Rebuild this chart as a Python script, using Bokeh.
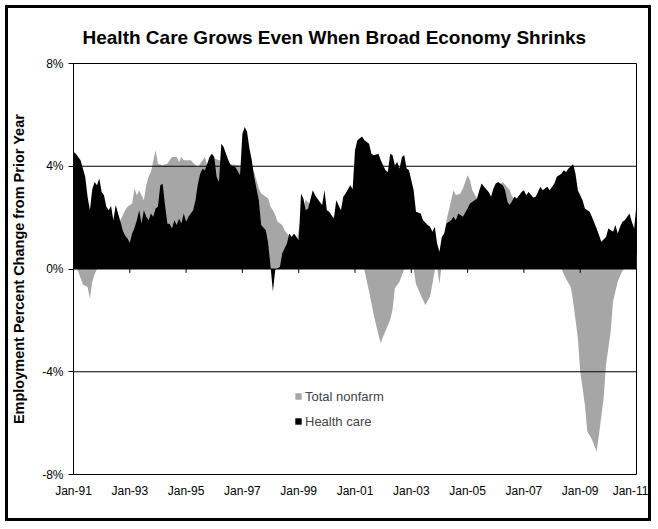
from bokeh.plotting import figure
from bokeh.models import FixedTicker, Legend, LegendItem, Range1d
from bokeh.embed import file_html
from bokeh.resources import INLINE

# ---- data (months since Jan-1991, year-over-year % change) ----
tick_months = [0, 24, 48, 72, 96, 120, 144, 168, 192, 216, 240]
tick_labels = ["Jan-91", "Jan-93", "Jan-95", "Jan-97", "Jan-99", "Jan-01",
               "Jan-03", "Jan-05", "Jan-07", "Jan-09", "Jan-11"]
y_ticks = [-8, -4, 0, 4, 8]
y_labels = ["-8%", "-4%", "0%", "4%", "8%"]
y_grid = [-4, 4]

hc_month = [0, 1, 3, 5, 6, 7, 8, 9, 10, 11, 12, 13, 14, 15, 16, 17, 18, 19, 20, 21, 22, 23, 24, 25,
            26, 27, 28, 29, 30, 31, 32, 33, 34, 35, 36, 37, 38, 39, 40, 41, 42, 43, 44, 45, 46, 47,
            48, 49, 51, 52, 53, 54, 55, 56, 57, 58, 59, 60, 61, 62, 63, 64, 66, 67, 69, 71, 72, 73,
            74, 75, 76, 77, 79, 80, 82, 83, 84, 85, 86, 88, 89, 91, 92, 93, 94, 96, 97, 98, 99, 100,
            102, 103, 105, 106, 107, 108, 109, 111, 112, 114, 115, 116, 118, 119, 120, 121, 123,
            124, 126, 127, 128, 130, 131, 133, 134, 135, 136, 137, 138, 139, 140, 141, 142, 143,
            145, 146, 148, 149, 151, 152, 153, 154, 155, 156, 157, 158, 159, 161, 162, 163, 164,
            166, 168, 169, 170, 172, 173, 174, 175, 177, 178, 179, 180, 181, 183, 184, 185, 186,
            188, 189, 191, 192, 193, 194, 196, 197, 198, 199, 200, 202, 203, 205, 206, 208, 209,
            210, 211, 213, 214, 215, 217, 218, 220, 221, 223, 224, 225, 227, 228, 230, 231, 232,
            233, 234, 235, 237, 238, 239, 240]
hc_value = [4.56, 4.49, 4.23, 3.59, 2.81, 2.29, 3.10, 3.39, 3.26, 3.52, 3.00, 2.87, 2.42, 2.29, 2.45,
            1.90, 2.49, 2.16, 1.85, 1.50, 1.30, 1.19, 1.02, 1.38,
            1.60, 1.90, 2.29, 1.77, 2.29, 2.03, 1.90, 2.16, 2.03, 2.36, 2.42, 3.26, 3.32, 2.50, 1.77,
            1.75, 1.58, 1.90, 1.71, 1.96, 1.77, 2.16,
            1.84, 2.03, 2.29, 2.68, 3.30, 3.71, 3.90, 3.84, 4.10, 4.36, 4.49, 4.36, 3.59, 3.39, 4.88,
            4.75, 4.23, 4.04, 3.97, 3.65, 5.27, 5.53,
            5.33, 4.69, 4.23, 3.59, 2.68, 1.71, 1.51, 0.99, 0.09, -0.88, -0.04, 0.09, 0.61, 0.99, 1.38,
            1.25, 1.38, 1.12, 2.94, 2.74, 2.29, 2.36,
            3.07, 2.87, 2.61, 2.49, 3.07, 2.29, 2.23, 1.96, 2.68, 2.29, 2.81, 2.94, 3.26, 3.10, 4.62,
            5.01, 5.16,
            5.01, 4.88, 4.49, 4.43, 4.49, 4.23, 3.84, 3.78, 4.49, 4.43, 4.04, 4.17, 3.91, 4.36, 4.43,
            3.91, 3.84,
            3.07, 2.23, 2.16, 1.90, 1.71, 1.64, 1.45, 1.64, 0.99, 0.67, 1.25, 1.38, 1.77, 1.90, 2.03,
            1.90, 2.16,
            2.03, 2.36, 2.55, 2.61, 2.74, 3.07, 3.33, 3.20, 3.00, 2.81, 3.13, 3.33, 3.39, 3.26, 3.07,
            2.61, 2.49,
            2.81, 2.74, 3.00, 3.07, 2.87, 3.00, 2.78, 2.81, 3.00, 3.20, 3.07, 3.20, 3.07, 3.33, 3.59,
            3.71, 3.84,
            3.78, 3.91, 4.08, 3.71, 3.07, 2.68, 2.36, 2.23, 2.03, 1.58, 1.32, 1.06, 1.25, 1.58, 1.45,
            1.71, 1.38,
            1.64, 1.84, 1.90, 2.16, 1.84, 1.58, 2.50]

nf_month = [0, 2, 4, 6, 7, 8, 9, 10, 12, 14, 16, 18, 20, 22, 23, 25, 26, 27, 28, 30, 31, 32, 33, 35,
            36, 38, 40, 41, 42, 44, 45, 46, 47, 49, 50, 52, 53, 54, 56, 57, 60, 63, 66, 70, 74, 77,
            79, 80, 82, 83, 84, 85, 86, 87, 89, 90, 91, 93, 95, 97, 99, 101, 104, 107, 110, 112,
            115, 118, 120, 122, 124, 126, 128, 130, 131, 132, 135, 136, 137, 139, 141, 143, 145,
            146, 148, 150, 152, 153, 154, 155, 156, 157, 158, 159, 160, 162, 163, 165, 166, 168,
            169, 170, 172, 175, 178, 181, 183, 186, 187, 190, 194, 198, 202, 205, 207, 208, 210,
            212, 213, 215, 216, 218, 219, 221, 223, 224, 226, 227, 229, 230, 232, 234, 235, 237,
            240]
nf_value = [0.30, -0.10, -0.60, -0.70, -1.15, -0.50, -0.20, 0.00, 0.30, 0.70, 1.10, 1.50, 1.90,
            2.29, 2.42, 2.55, 3.13, 2.87, 3.07, 2.68, 3.26, 3.59, 3.78, 4.62,
            4.10, 4.04, 4.10, 4.23, 4.36, 4.36, 4.17, 4.36, 4.23, 4.23, 4.23, 4.04, 3.97, 4.10, 4.36,
            4.04, 4.30, 4.20, 4.10, 4.04, 4.00, 3.78,
            3.13, 2.94, 2.81, 2.74, 2.42, 2.29, 2.10, 1.84, 1.71, 1.51, 1.38, 1.20, 1.05, 2.00, 2.70,
            2.50, 2.40, 2.20, 2.00, 2.10,
            2.30, 2.20, 1.50, 0.60, -0.04, -0.88, -1.79, -2.56, -2.89, -2.63, -1.98, -1.59, -0.75,
            -0.49, 0.00, 0.20, 0.00,
            -0.58, -1.01, -1.40, -1.07, -0.58, -0.06, 0.10, -0.58, 0.20, 1.20, 1.90, 2.29, 3.07, 2.87,
            2.94, 3.13, 3.65,
            3.46, 3.07, 2.74, 2.90, 2.80, 3.20, 3.39, 3.07, 2.81, 2.60, 2.40, 2.20, 1.80, 1.20, 0.50,
            0.00, -0.39,
            -0.71, -1.27, -2.69, -3.99, -5.28, -6.32, -6.64, -7.10, -6.45, -5.02, -3.73, -2.43, -1.27,
            -0.49, -0.06, 0.00, 0.30,
            0.60]

FONT = "Liberation Sans"
GRAY = "#A6A6A6"

p = figure(width=646, height=516, output_backend="svg", toolbar_location=None,
           x_range=Range1d(tick_months[0], tick_months[-1]),
           y_range=Range1d(y_ticks[0], y_ticks[-1]),
           min_border_left=64, min_border_right=18, min_border_top=55, min_border_bottom=50)
p.styles = {"border": "3px solid black", "margin-left": "5px", "margin-top": "5px"}

p.background_fill_color = "white"
p.border_fill_color = "white"
p.outline_line_color = "black"
p.outline_line_width = 1
p.xgrid.visible = False
p.ygrid.visible = False

# series
r_nf = p.varea(x=nf_month, y1=0, y2=nf_value, fill_color=GRAY)
p.segment(x0=[tick_months[0]] * len(y_grid), x1=[tick_months[-1]] * len(y_grid),
          y0=y_grid, y1=y_grid, line_color="black", line_width=1)
r_hc = p.varea(x=hc_month, y1=0, y2=hc_value, fill_color="black")

# zero axis line with tick marks
p.segment(x0=[tick_months[0]], x1=[tick_months[-1]], y0=[0], y1=[0],
          line_color="black", line_width=1)
p.segment(x0=tick_months, x1=tick_months, y0=[0] * len(tick_months),
          y1=[-0.15] * len(tick_months), line_color="black", line_width=1)

# title
p.title.text = "Health Care Grows Even When Broad Economy Shrinks"
p.title.text_font = FONT
p.title.text_font_size = "19px"
p.title.text_font_style = "bold"
p.title.text_color = "black"
p.title.align = "left"
p.title.offset = 9
p.title.standoff = 32

# y axis
ya = p.yaxis[0]
ya.ticker = FixedTicker(ticks=y_ticks)
ya.major_label_overrides = {t: l for t, l in zip(y_ticks, y_labels)}
ya.minor_tick_line_color = None
ya.major_tick_in = 0
ya.major_tick_out = 5
ya.major_label_standoff = 5
ya.axis_line_color = "black"
ya.major_tick_line_color = "black"
ya.major_label_text_font = FONT
ya.major_label_text_font_size = "12px"
ya.major_label_text_color = "black"
ya.axis_label = "Employment Percent Change from Prior Year"
ya.axis_label_text_font = FONT
ya.axis_label_text_font_size = "14.5px"
ya.axis_label_text_font_style = "bold"
ya.axis_label_text_color = "black"
ya.axis_label_standoff = 12

# x axis
xa = p.xaxis[0]
xa.ticker = FixedTicker(ticks=tick_months)
xa.major_label_overrides = {t: l for t, l in zip(tick_months, tick_labels)}
xa.minor_tick_line_color = None
xa.major_tick_line_color = None
xa.major_tick_in = 0
xa.major_tick_out = 0
xa.axis_line_color = None
xa.major_label_standoff = 9
xa.major_label_text_font = FONT
xa.major_label_text_font_size = "12px"
xa.major_label_text_color = "black"

# legend
legend = Legend(items=[LegendItem(label="Total nonfarm", renderers=[r_nf]),
                       LegendItem(label="Health care", renderers=[r_hc])],
                location=(221, 45), orientation="vertical",
                glyph_width=8, glyph_height=8, label_height=16, spacing=9,
                padding=0, margin=0, label_standoff=3,
                label_text_font=FONT, label_text_font_size="13px",
                border_line_color=None, background_fill_alpha=0)
p.add_layout(legend, "center")

open("out.html", "w").write(file_html(p, INLINE))
